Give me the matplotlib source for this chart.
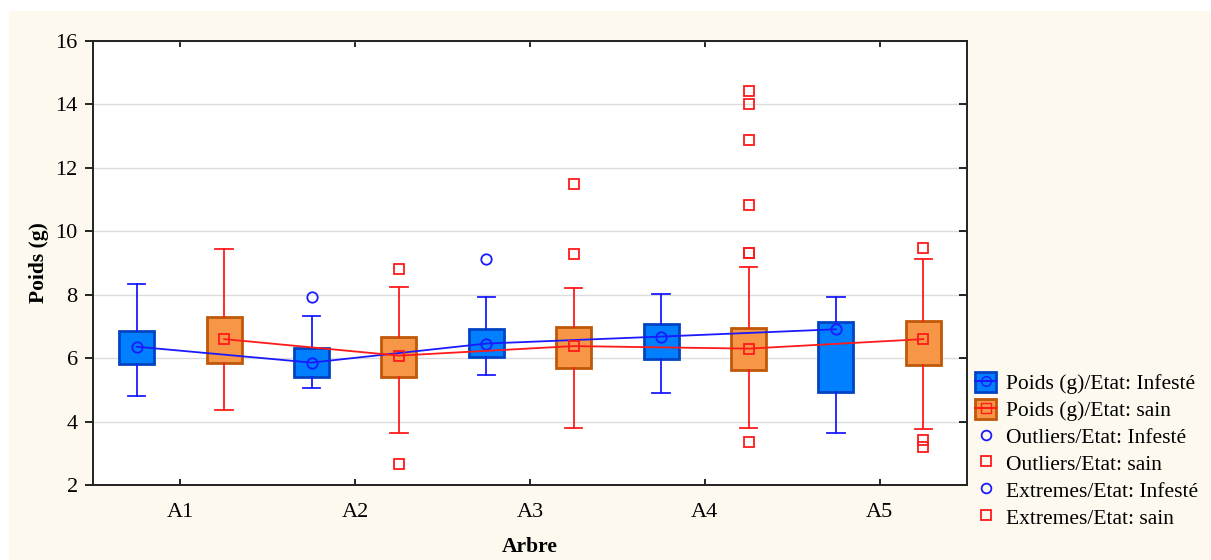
import numpy as np
import matplotlib
matplotlib.use("Agg")
import matplotlib.pyplot as plt
from matplotlib.patches import Rectangle, Patch
from matplotlib.lines import Line2D, TICKLEFT

plt.rcParams['font.family'] = ['Liberation Serif', 'DejaVu Serif']

arbres = ["A1", "A2", "A3", "A4", "A5"]

# Etat: Infesté
inf_med = [6.36, 5.86, 6.46, 6.68, 6.91]
inf_q1 = [5.82, 5.42, 6.03, 5.97, 4.94]
inf_q3 = [6.87, 6.31, 6.92, 7.08, 7.15]
inf_lo = [4.81, 5.07, 5.48, 4.91, 3.63]
inf_hi = [8.33, 7.34, 7.94, 8.02, 7.94]
inf_outliers = [[], [7.92], [9.13], [], []]
inf_extremes = [[], [], [], [], []]

# Etat: sain
sain_med = [6.60, 6.08, 6.38, 6.30, 6.60]
sain_q1 = [5.84, 5.41, 5.68, 5.63, 5.77]
sain_q3 = [7.31, 6.66, 6.99, 6.96, 7.18]
sain_lo = [4.37, 3.63, 3.79, 3.79, 3.77]
sain_hi = [9.43, 8.25, 8.22, 8.88, 9.13]
sain_outliers = [[], [8.80, 2.66], [9.27], [10.82, 9.33, 9.30, 3.37], [9.48, 3.42, 3.21]]
sain_extremes = [[], [], [11.48], [14.43, 14.02, 12.88], []]

W, H = 1211, 560
fig = plt.figure(figsize=(W / 100, H / 100), dpi=100)
fig.patch.set_facecolor("white")
fig.patches.append(Rectangle((9 / W, 0), 1, 1 - 11 / H, transform=fig.transFigure,
                             facecolor="#fdf9ef", edgecolor="none", zorder=-10))

ax = fig.add_axes([93 / W, 1 - 485 / H, 874 / W, 444 / H])
ax.set_facecolor("white")

x = np.arange(1, len(arbres) + 1)
off = 0.25
blue_line, red_line = "#1a1aff", "#ff1a1a"


def stats(med, q1, q3, lo, hi):
    return [dict(med=m, q1=a, q3=b, whislo=l, whishi=h, fliers=[])
            for m, a, b, l, h in zip(med, q1, q3, lo, hi)]


for st, pos, fc, ec, lc in [
    (stats(inf_med, inf_q1, inf_q3, inf_lo, inf_hi), x - off, "#0080ff", "#0044c4", blue_line),
    (stats(sain_med, sain_q1, sain_q3, sain_lo, sain_hi), x + off, "#f79646", "#c0580a", red_line),
]:
    ax.bxp(st, positions=pos, widths=0.2, capwidths=0.1, patch_artist=True,
           showfliers=False,
           boxprops=dict(facecolor=fc, edgecolor=ec, linewidth=2),
           whiskerprops=dict(color=lc, linewidth=1.3),
           capprops=dict(color=lc, linewidth=1.3),
           medianprops=dict(linewidth=0), zorder=3)

ax.plot(x - off, inf_med, color=blue_line, lw=1.3, marker="o", ms=7.5, mfc="none",
        mec=blue_line, mew=1.3, zorder=4)
ax.plot(x + off, sain_med, color=red_line, lw=1.3, marker="s", ms=7.5, mfc="none",
        mec=red_line, mew=1.3, zorder=4)

for i in range(len(arbres)):
    for vals, px, mk, c in [(inf_outliers[i], x[i] - off, "o", blue_line),
                            (inf_extremes[i], x[i] - off, "o", blue_line),
                            (sain_outliers[i], x[i] + off, "s", red_line),
                            (sain_extremes[i], x[i] + off, "s", red_line)]:
        if vals:
            ax.plot([px] * len(vals), vals, ls="none", marker=mk, ms=7.5, mfc="none",
                    mec=c, mew=1.3, zorder=4)

ax.set_xlim(0.5, 5.5)
ax.set_ylim(2, 16)
ax.set_yticks(np.arange(2, 17, 2))
ax.set_xticks(x)
ax.set_xticklabels(arbres)
ax.yaxis.grid(True, color="#dcdcdc", lw=1)
ax.set_axisbelow(True)
for s in ax.spines.values():
    s.set_linewidth(1.4)
    s.set_color("#222222")
ax.tick_params(axis="y", direction="out", length=6, width=1.2,
               labelsize=16, right=True, pad=5)
ax.tick_params(axis="x", direction="in", length=4, width=1.2, labelsize=16,
               top=True, pad=13)
for t in ax.yaxis.get_major_ticks():
    t.tick2line.set_marker(TICKLEFT)
    t.tick2line.set_markersize(6)
ax.set_xlabel("Arbre", fontsize=15.5, fontweight="bold", labelpad=11)
ax.set_ylabel("Poids (g)", fontsize=15.5, fontweight="bold", labelpad=5)

handles = [
    (Patch(facecolor="#0080ff", edgecolor="#0044c4", lw=2),
     Line2D([], [], color=blue_line, marker="o", mfc="none", mec=blue_line, ms=7)),
    (Patch(facecolor="#f79646", edgecolor="#c0580a", lw=2),
     Line2D([], [], color=red_line, marker="s", mfc="none", mec=red_line, ms=7)),
    Line2D([], [], ls="none", marker="o", mfc="none", mec=blue_line, ms=7, mew=1.3),
    Line2D([], [], ls="none", marker="s", mfc="none", mec=red_line, ms=7, mew=1.3),
    Line2D([], [], ls="none", marker="o", mfc="none", mec=blue_line, ms=7, mew=1.3),
    Line2D([], [], ls="none", marker="s", mfc="none", mec=red_line, ms=7, mew=1.3),
]
labels = ["Poids (g)/Etat: Infesté", "Poids (g)/Etat: sain",
          "Outliers/Etat: Infesté", "Outliers/Etat: sain",
          "Extremes/Etat: Infesté", "Extremes/Etat: sain"]
fig.legend(handles, labels, loc="upper left", bbox_to_anchor=(964 / W, 1 - 361 / H),
           frameon=False, fontsize=15.5, handlelength=1.0, handleheight=1.1,
           handletextpad=0.45, labelspacing=0.2, borderpad=0)

fig.savefig("out.png", dpi=100)
